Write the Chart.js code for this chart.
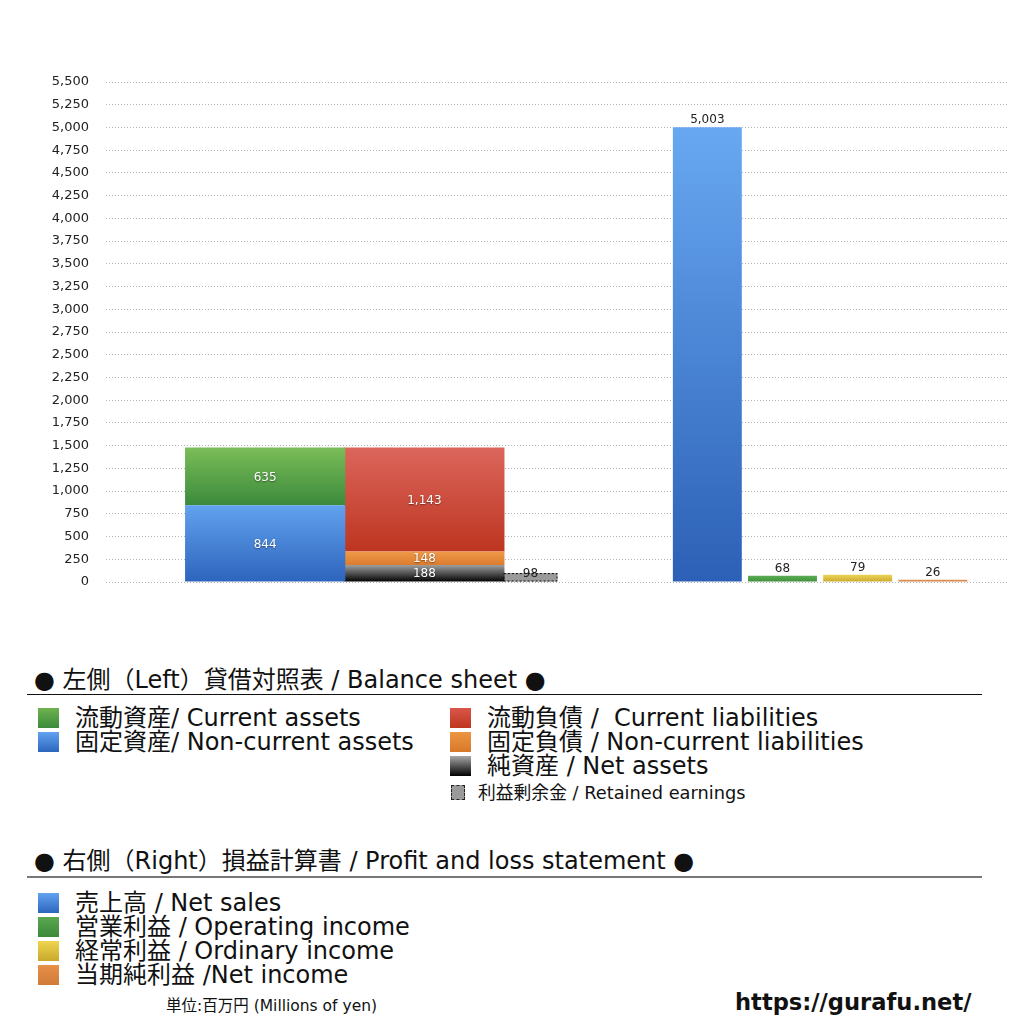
<!DOCTYPE html>
<html><head><meta charset="utf-8">
<script src="https://cdn.jsdelivr.net/npm/chart.js@4.4.0/dist/chart.umd.min.js"></script>
<style>
html,body{margin:0;padding:0;background:#fff;width:1024px;height:1024px;overflow:hidden;font-family:"DejaVu Sans","Noto Sans CJK JP",sans-serif;color:#111;}
#wrap{position:absolute;left:0;top:0;width:1024px;height:620px;}
#c{display:block;}
.t{position:absolute;white-space:nowrap;line-height:1;}
.h{font-size:24px;}
.it{font-size:24px;}
.sm{font-size:17.8px;}
.rule{position:absolute;left:27px;width:955px;height:0;}
.sw{position:absolute;width:21px;height:20px;}
</style></head>
<body>
<div id="wrap"><canvas id="c" width="1024" height="620" style="width:1024px;height:620px;"></canvas></div>

<div class="t h" style="left:34px;top:668px;">● 左側（Left）貸借対照表 / Balance sheet ●</div>
<div class="rule" style="top:694px;border-top:1px solid #111;"></div>

<div class="sw" style="left:38px;top:708px;background:linear-gradient(#6fb24f,#3b8a3c);"></div>
<div class="t it" style="left:75px;top:706px;">流動資産/ Current assets</div>
<div class="sw" style="left:38px;top:732px;background:linear-gradient(#62a2ee,#2d66bf);"></div>
<div class="t it" style="left:75px;top:730px;">固定資産/ Non-current assets</div>

<div class="sw" style="left:450px;top:708px;background:linear-gradient(#d9564a,#bf3620);"></div>
<div class="t it" style="left:487px;top:706px;">流動負債 /&nbsp; Current liabilities</div>
<div class="sw" style="left:450px;top:732px;background:linear-gradient(#ec9642,#d8782a);"></div>
<div class="t it" style="left:487px;top:730px;">固定負債 / Non-current liabilities</div>
<div class="sw" style="left:450px;top:756px;background:linear-gradient(#a8a8a8,#000);"></div>
<div class="t it" style="left:487px;top:754px;">純資産 / Net assets</div>
<div class="sw" style="left:451px;top:785px;width:12px;height:13px;background:#9a9a9a;border:1px dashed #222;"></div>
<div class="t sm" style="left:478px;top:784px;">利益剰余金 / Retained earnings</div>

<div class="t h" style="left:34px;top:849px;">● 右側（Right）損益計算書 / Profit and loss statement ●</div>
<div class="rule" style="top:876px;border-top:2px solid #777;"></div>

<div class="sw" style="left:38px;top:893px;background:linear-gradient(#62a2ee,#2d66bf);"></div>
<div class="t it" style="left:75px;top:891px;">売上高 / Net sales</div>
<div class="sw" style="left:38px;top:917px;background:linear-gradient(#5aa84f,#3b8a3c);"></div>
<div class="t it" style="left:75px;top:915px;">営業利益 / Operating income</div>
<div class="sw" style="left:38px;top:941px;background:linear-gradient(#f0d650,#c8a82c);"></div>
<div class="t it" style="left:75px;top:939px;">経常利益 / Ordinary income</div>
<div class="sw" style="left:38px;top:965px;background:linear-gradient(#e8904a,#d07a38);"></div>
<div class="t it" style="left:75px;top:963px;">当期純利益 /Net income</div>

<div class="t" style="left:166px;top:999px;font-size:15.5px;">単位:百万円 (Millions of yen)</div>
<div class="t" style="left:735px;top:991px;font-size:22.6px;font-weight:bold;">https://gurafu.net/</div>

<script>
// ---- data ----
const yMin = 0;
const yMax = 5500;
const yStep = 250;

// balance sheet columns (left side)
const bsColumns = ['資産', '負債・純資産', '利益剰余金'];
// series listed bottom-to-top within each column
const bsSeries = ['固定資産', '流動資産', '純資産', '固定負債', '流動負債', '利益剰余金'];
const bsColumnOf = [0, 0, 1, 1, 1, 2];
const bsValues = [844, 635, 188, 148, 1143, 98];

// profit and loss (right side)
const plSeries = ['売上高', '営業利益', '経常利益', '当期純利益'];
const plValues = [5003, 68, 79, 26];

// ---- styles ----
const bsTop = ['#62a2ee', '#7bbd58', '#a0a0a0', '#ee9a48', '#dc665c', '#9a9a9a'];
const bsBottom = ['#2d64bd', '#3b8a3c', '#000000', '#dc7c2e', '#bd3520', '#9a9a9a'];
const bsLabelColor = ['#fff', '#fff', '#fff', '#fff', '#fff', '#222'];
const plTop = ['#68a8f2', '#5cae55', '#ecd456', '#e39458'];
const plBottom = ['#2c60b6', '#3f8e3c', '#c9a92c', '#d27c40'];

// layout of hidden category axes
const leftSlotCount = 18;
const bsColumnSlot = [3, 6, 8];
const rightSlotCount = 13;
const plSlotStart = 8;

const leftLabels = Array.from({length: leftSlotCount}, (_, i) => {
  const k = bsColumnSlot.indexOf(i); return k >= 0 ? bsColumns[k] : '';
});
const rightLabels = Array.from({length: rightSlotCount}, (_, i) => {
  const k = i - plSlotStart; return (k >= 0 && k < plSeries.length) ? plSeries[k] : '';
});

function grad(top, bottom, lo, hi) {
  return (ctx) => {
    const chart = ctx.chart;
    const y = chart.scales && chart.scales.y;
    if (!y || top === bottom) return bottom;
    const yTop = y.getPixelForValue(hi), yBot = y.getPixelForValue(lo);
    if (!isFinite(yTop) || !isFinite(yBot) || yTop === yBot) return bottom;
    const g = chart.ctx.createLinearGradient(0, yTop, 0, yBot);
    g.addColorStop(0, top); g.addColorStop(1, bottom);
    return g;
  };
}

const datasets = [];
const colBase = [0, 0, 0];
bsSeries.forEach((name, i) => {
  const col = bsColumnOf[i];
  const data = new Array(leftSlotCount).fill(null);
  data[bsColumnSlot[col]] = bsValues[i];
  const lo = colBase[col], hi = lo + bsValues[i];
  colBase[col] = hi;
  datasets.push({
    label: name, data, xAxisID: 'xL', stack: 'bs',
    backgroundColor: grad(bsTop[i], bsBottom[i], lo, hi),
    barPercentage: col === 2 ? 1.02 : 3.02,
    labelPos: col === 2 ? 'edge' : 'inside', labelColor: bsLabelColor[i], dashed: col === 2
  });
});
plSeries.forEach((name, i) => {
  const data = new Array(rightSlotCount).fill(null);
  data[plSlotStart + i] = plValues[i];
  datasets.push({
    label: name, data, xAxisID: 'xR', stack: 'pl' + i,
    backgroundColor: grad(plTop[i], plBottom[i], 0, plValues[i]),
    barPercentage: 0.917,
    labelPos: 'top'
  });
});

const valueLabels = {
  id: 'valueLabels',
  afterDatasetsDraw(chart) {
    const c = chart.ctx;
    chart.data.datasets.forEach((ds, di) => {
      const meta = chart.getDatasetMeta(di);
      meta.data.forEach((el, i) => {
        const v = ds.data[i];
        if (v == null) return;
        const txt = v.toLocaleString('en-US');
        c.save();
        if (ds.dashed) {
          c.setLineDash([2, 2]);
          c.strokeStyle = '#111';
          c.lineWidth = 1;
          c.strokeRect(el.x - el.width / 2 + 0.5, el.y + 0.5, el.width - 1, el.base - el.y - 1);
          c.setLineDash([]);
        }
        c.font = '12px "DejaVu Sans", Arial, sans-serif';
        c.textAlign = 'center';
        if (ds.labelPos === 'inside' || ds.labelPos === 'edge') {
          c.textBaseline = 'middle';
          if (ds.labelColor === '#fff') {
            c.shadowColor = 'rgba(0,0,0,0.45)'; c.shadowBlur = 1.5; c.shadowOffsetY = 1;
          }
          c.fillStyle = ds.labelColor;
          const ly = ds.labelPos === 'edge' ? el.y + 1 : (el.y + el.base) / 2 + 1;
          c.fillText(txt, el.x, ly);
        } else {
          c.textBaseline = 'bottom';
          c.fillStyle = '#222';
          c.fillText(txt, el.x, el.y - 1);
        }
        c.restore();
      });
    });
  }
};

new Chart(document.getElementById('c'), {
  type: 'bar',
  data: { datasets },
  plugins: [valueLabels],
  options: {
    responsive: false,
    devicePixelRatio: 1,
    animation: false,
    layout: { padding: { top: 82, right: 16, bottom: 38, left: 0 } },
    datasets: { bar: { grouped: false, categoryPercentage: 1, borderWidth: 0 } },
    plugins: { legend: { display: false }, tooltip: { enabled: false } },
    scales: {
      xL: { type: 'category', labels: leftLabels, offset: false, stacked: true, display: false },
      xR: { type: 'category', labels: rightLabels, offset: false, stacked: true, display: false },
      y: {
        stacked: true, min: yMin, max: yMax,
        afterFit: (s) => { s.width = 106; },
        border: { display: false, dash: [1, 2] },
        grid: { color: '#b5b5b5', drawTicks: false, lineWidth: 1 },
        ticks: {
          stepSize: yStep, padding: 17, color: '#222',
          font: { family: '"DejaVu Sans", Arial, sans-serif', size: 13 },
          callback: (v) => v.toLocaleString('en-US')
        }
      }
    }
  }
});
</script>
</body></html>
